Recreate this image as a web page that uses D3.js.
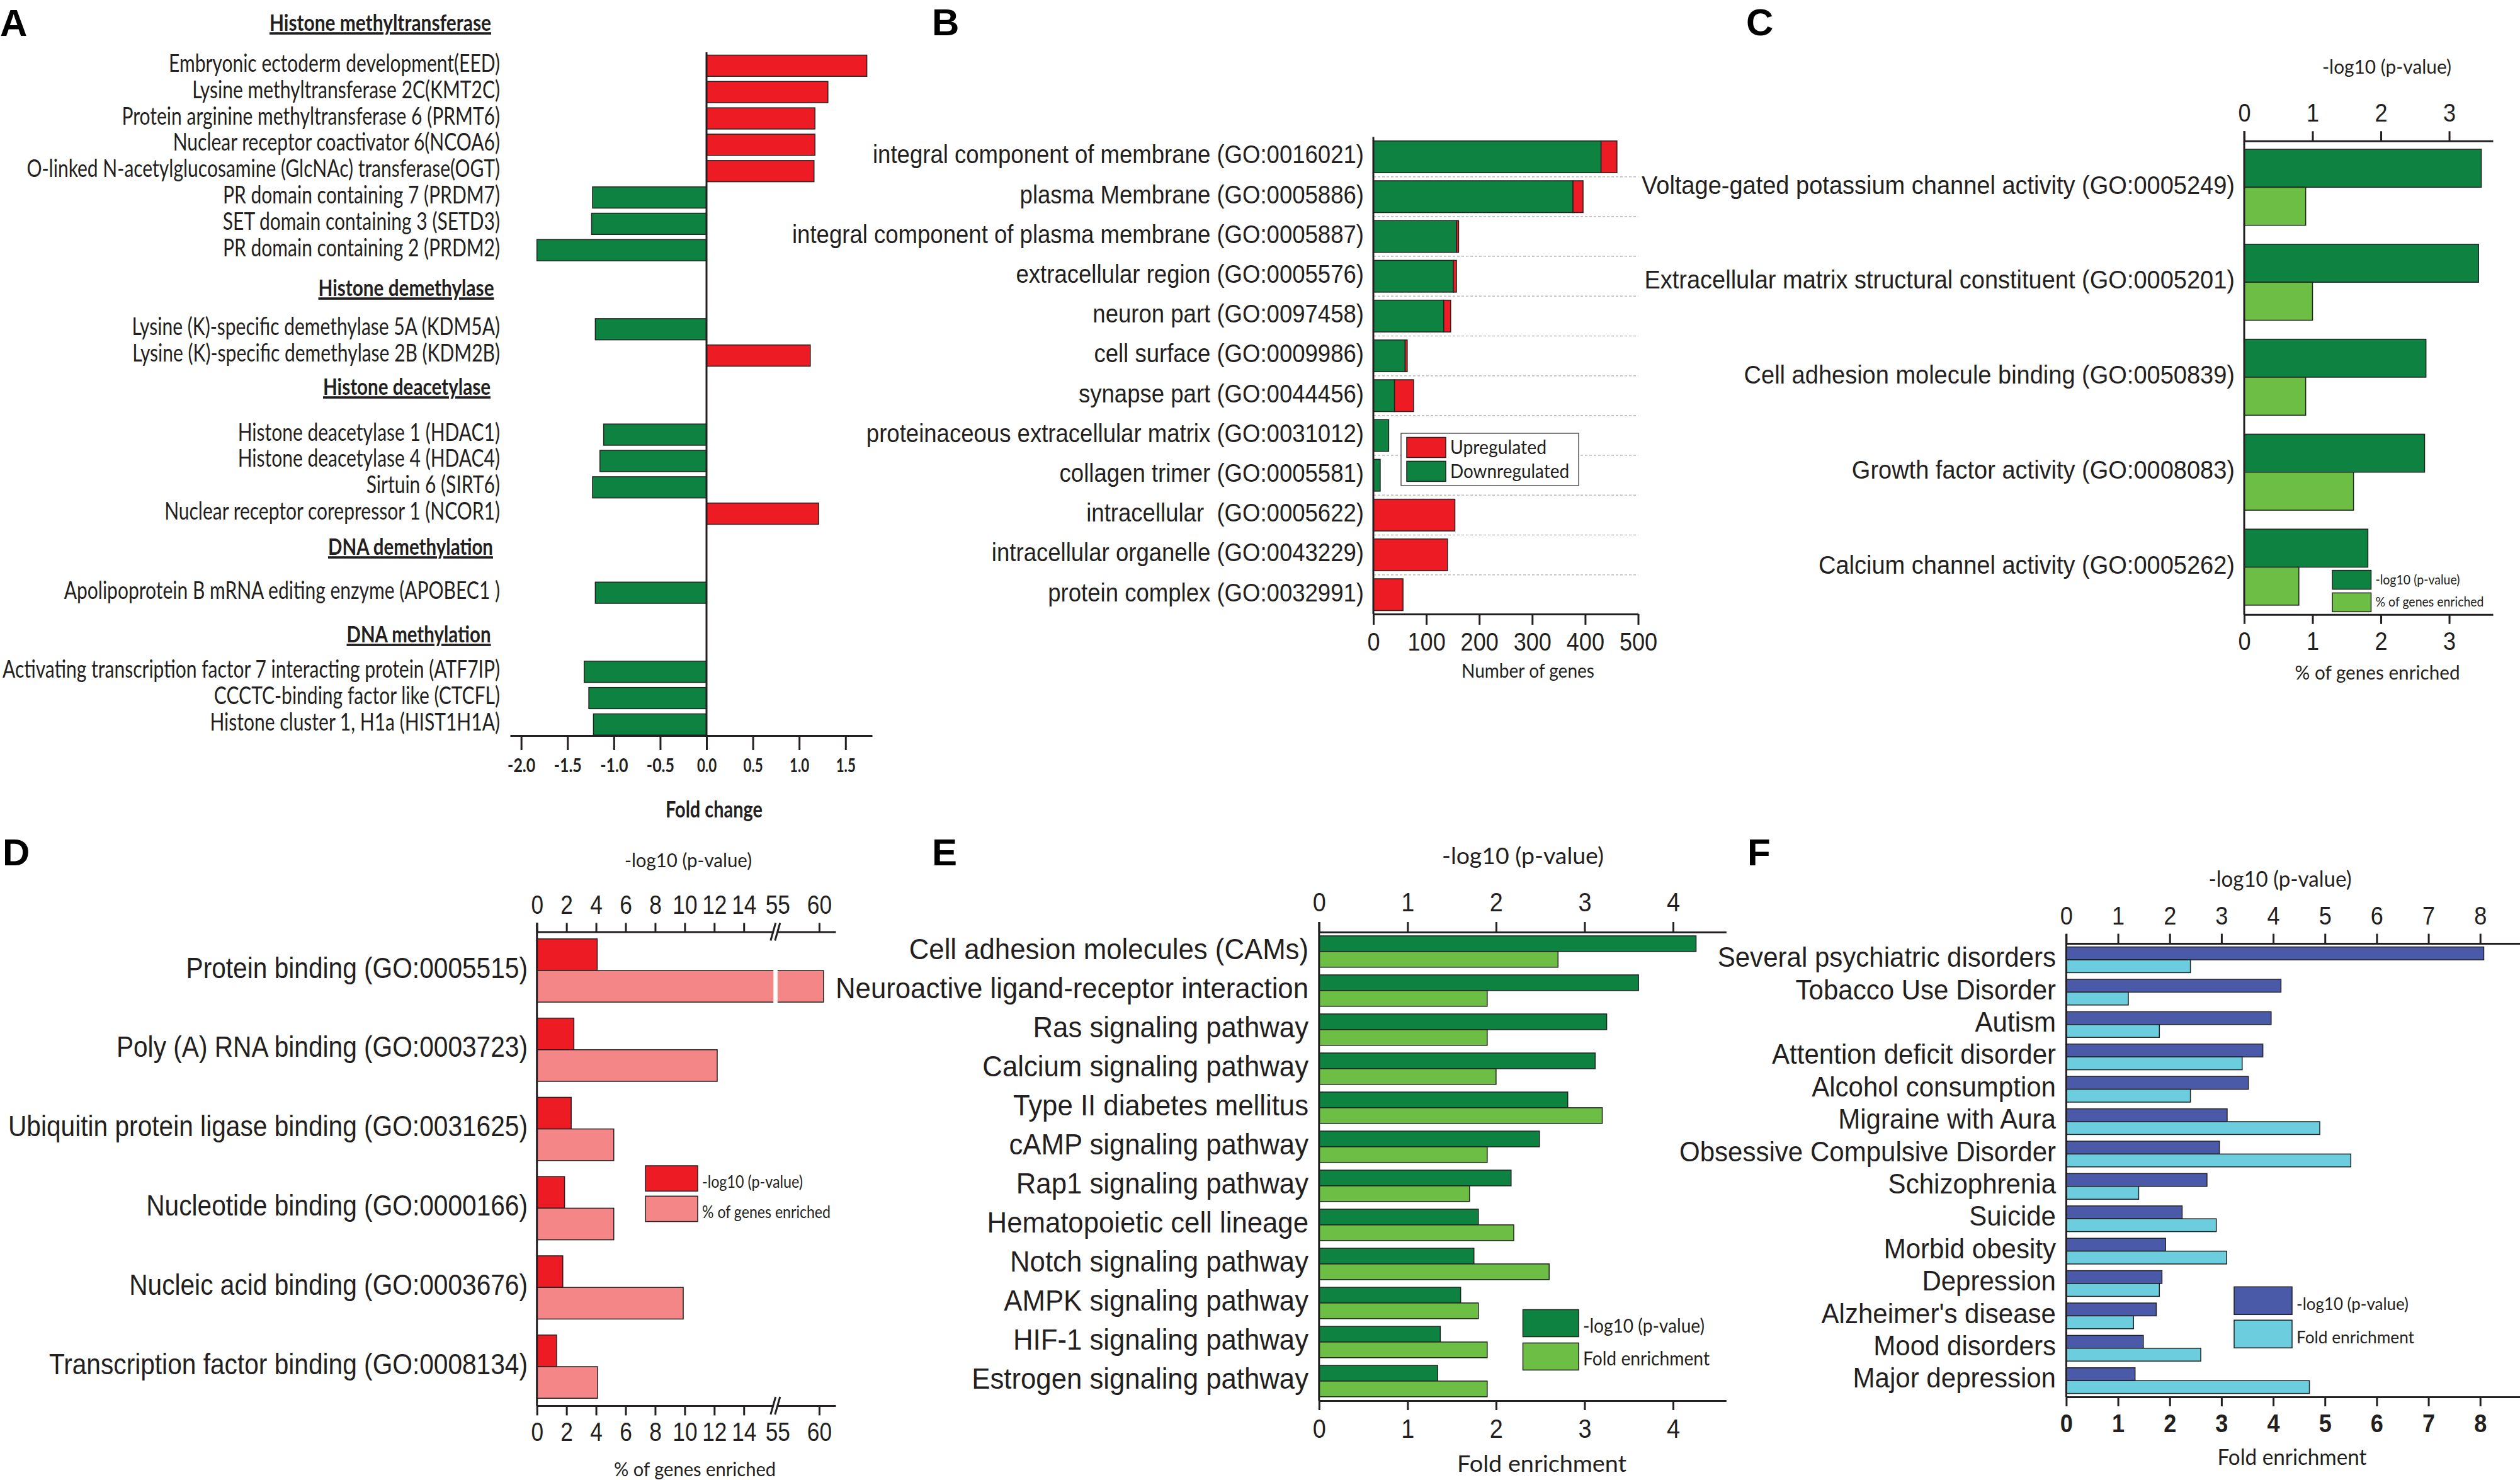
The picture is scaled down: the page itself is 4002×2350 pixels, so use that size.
<!DOCTYPE html>
<html>
<head>
<meta charset="utf-8">
<script src="https://cdn.jsdelivr.net/npm/d3@7"></script>
<style>
  body { margin: 0; background: #fff; }
  text { fill: #231f20; }
  .axis path, .axis line { stroke: #231f20; stroke-width: 3; }
  .bar { stroke: #222; stroke-width: 1.5; }
</style>
</head>
<body>
<svg id="chart"></svg>
<script>
/* DATA */
// panel A
const aGenes = ["Embryonic ectoderm development(EED)", "Lysine methyltransferase 2C(KMT2C)", "Protein arginine methyltransferase 6 (PRMT6)", "Nuclear receptor coactivator 6(NCOA6)", "O-linked N-acetylglucosamine (GlcNAc) transferase(OGT)", "PR domain containing 7 (PRDM7)", "SET domain containing 3 (SETD3)", "PR domain containing 2 (PRDM2)", "Lysine (K)-specific demethylase 5A (KDM5A)", "Lysine (K)-specific demethylase 2B (KDM2B)", "Histone deacetylase 1 (HDAC1)", "Histone deacetylase 4 (HDAC4)", "Sirtuin 6 (SIRT6)", "Nuclear receptor corepressor 1 (NCOR1)", "Apolipoprotein B mRNA editing enzyme (APOBEC1 )", "Activating transcription factor 7 interacting protein (ATF7IP)", "CCCTC-binding factor like (CTCFL)", "Histone cluster 1, H1a (HIST1H1A)"];
const aFoldChange = [1.73, 1.31, 1.17, 1.17, 1.16, -1.23, -1.24, -1.83, -1.20, 1.12, -1.11, -1.15, -1.23, 1.21, -1.20, -1.32, -1.27, -1.22];
const aRows = [0, 1, 2, 3, 4, 5, 6, 7, 10, 11, 14, 15, 16, 17, 20, 23, 24, 25]; // blank rows hold the group headings
const aHeadings = ["Histone methyltransferase", "Histone demethylase", "Histone deacetylase", "DNA demethylation", "DNA methylation"];
const aTicks = [-2, -1.5, -1, -0.5, 0, 0.5, 1, 1.5];

// panel B
const bTerms = ["integral component of membrane (GO:0016021)", "plasma Membrane (GO:0005886)", "integral component of plasma membrane (GO:0005887)", "extracellular region (GO:0005576)", "neuron part (GO:0097458)", "cell surface (GO:0009986)", "synapse part (GO:0044456)", "proteinaceous extracellular matrix (GO:0031012)", "collagen trimer (GO:0005581)", "intracellular\u00a0 (GO:0005622)", "intracellular organelle (GO:0043229)", "protein complex (GO:0032991)"];
const bDown = [430, 377, 157, 151, 133, 60, 40, 29, 13, 0, 0, 0];
const bUp = [30, 19, 4, 6, 13, 4, 36, 0, 0, 154, 140, 56];
const bTicks = [0, 100, 200, 300, 400, 500];

// panel C
const cTerms = ["Voltage-gated potassium channel activity (GO:0005249)", "Extracellular matrix structural constituent (GO:0005201)", "Cell adhesion molecule binding (GO:0050839)", "Growth factor activity (GO:0008083)", "Calcium channel activity (GO:0005262)"];
const cLogP = [3.47, 3.43, 2.66, 2.64, 1.81];
const cPercent = [0.9, 1.0, 0.9, 1.6, 0.8];
const cTicks = [0, 1, 2, 3];

// panel D
const dTerms = ["Protein binding (GO:0005515)", "Poly (A) RNA binding (GO:0003723)", "Ubiquitin protein ligase binding (GO:0031625)", "Nucleotide binding (GO:0000166)", "Nucleic acid binding (GO:0003676)", "Transcription factor binding (GO:0008134)"];
const dLogP = [4.08, 2.5, 2.32, 1.87, 1.75, 1.33];
const dPercent = [60.5, 12.2, 5.2, 5.2, 9.9, 4.1];
const dTicks = [0, 2, 4, 6, 8, 10, 12, 14, 55, 60];

// panel E
const ePathways = ["Cell adhesion molecules (CAMs)", "Neuroactive ligand-receptor interaction", "Ras signaling pathway", "Calcium signaling pathway", "Type II diabetes mellitus", "cAMP signaling pathway", "Rap1 signaling pathway", "Hematopoietic cell lineage", "Notch signaling pathway", "AMPK signaling pathway", "HIF-1 signaling pathway", "Estrogen signaling pathway"];
const eLogP = [4.26, 3.61, 3.25, 3.12, 2.81, 2.49, 2.17, 1.80, 1.75, 1.60, 1.37, 1.34];
const eFold = [2.7, 1.9, 1.9, 2.0, 3.2, 1.9, 1.7, 2.2, 2.6, 1.8, 1.9, 1.9];
const eTicks = [0, 1, 2, 3, 4];

// panel F
const fDisorders = ["Several psychiatric disorders", "Tobacco Use Disorder", "Autism", "Attention deficit disorder", "Alcohol consumption", "Migraine with Aura", "Obsessive Compulsive Disorder", "Schizophrenia", "Suicide", "Morbid obesity", "Depression", "Alzheimer's disease", "Mood disorders", "Major depression"];
const fLogP = [8.07, 4.15, 3.96, 3.80, 3.52, 3.11, 2.96, 2.72, 2.24, 1.92, 1.85, 1.74, 1.49, 1.33];
const fFold = [2.4, 1.2, 1.8, 3.4, 2.4, 4.9, 5.5, 1.4, 2.9, 3.1, 1.8, 1.3, 2.6, 4.7];
const fTicks = [0, 1, 2, 3, 4, 5, 6, 7, 8];

/* CONSTANTS */
const width = 4002, height = 2350;
const sans = "'Liberation Sans', Arial, sans-serif", lato = "Lato, sans-serif";
const red = "#ed1c24", pink = "#f48687", darkGreen = "#0e8241", lightGreen = "#6cbe45", navy = "#4a5aa8", cyan = "#6bcdde";

const svg = d3.select("#chart").attr("width", width).attr("height", height).style("display", "block");
svg.append("rect").attr("width", width).attr("height", height).attr("fill", "#fff");

/* HELPERS */
// squeezes every text of the selection horizontally, the fonts here are wider than the original ones
function squeeze(sel, ratio) {
  sel.each(function () {
    d3.select(this)
      .attr("textLength", this.getComputedTextLength() * ratio)
      .attr("lengthAdjust", "spacingAndGlyphs");
  });
}

// same, but the ratio comes from the width the widest label should have
function fitWidest(sel, target) {
  let widest = 0;
  sel.each(function () { widest = Math.max(widest, this.getComputedTextLength()); });
  squeeze(sel, target / widest);
}

function label(txt, x, y, size, font, w, opts = {}) {
  return svg.append("text")
    .attr("x", x).attr("y", y)
    .attr("dy", "0.33em")
    .attr("text-anchor", opts.anchor || "middle")
    .attr("font-family", font)
    .attr("font-size", size)
    .attr("font-weight", opts.bold ? "bold" : "normal")
    .style("text-decoration", opts.underline ? "underline" : "none")
    .text(txt)
    .call(fitWidest, w);
}

function panelLetter(txt, x, baseline) {
  svg.append("text").attr("x", x).attr("y", baseline)
    .attr("font-family", sans).attr("font-weight", "bold").attr("font-size", 60)
    .style("fill", "#000")
    .text(txt);
}

// band scale from the first bar top, the row step and the bar (or bar pair) height
function rowScale(domain, top, step, barHeight) {
  return d3.scaleBand()
    .domain(domain)
    .range([top, top + step * (domain.length - 1) + barHeight])
    .paddingInner(1 - barHeight / step)
    .paddingOuter(0);
}

function valueAxis(axis, y, o) {
  const g = svg.append("g")
    .attr("class", "axis")
    .attr("transform", `translate(0,${y})`)
    .call(axis.tickSize(o.tick).tickSizeOuter(0).tickPadding(o.pad).tickFormat(o.format || d3.format("d")));
  g.selectAll("text")
    .attr("font-family", o.font || sans)
    .attr("font-size", o.size)
    .attr("font-weight", o.bold ? "bold" : "normal")
    .call(squeeze, o.squeeze || 0.88);
  return g;
}

function categoryAxis(yScale, tickValues, fmt, x, o) {
  const axis = d3.axisLeft(yScale).tickSize(0).tickPadding(0);
  if (tickValues) axis.tickValues(tickValues);
  if (fmt) axis.tickFormat(fmt);
  const g = svg.append("g")
    .attr("transform", `translate(${x},0)`)
    .call(axis);
  g.select(".domain").remove();
  g.selectAll("text")
    .attr("dy", "0.25em")
    .attr("font-family", o.font || sans)
    .attr("font-size", o.size)
    .call(fitWidest, o.widest);
}

function zeroLine(x, y1, y2) {
  svg.append("line").attr("x1", x).attr("x2", x).attr("y1", y1).attr("y2", y2)
    .attr("stroke", "#231f20").attr("stroke-width", 3);
}

function legend(entries, x, swatchW, swatchH, size, font) {
  entries.forEach(d => {
    svg.append("rect").attr("class", "bar")
      .attr("x", x).attr("y", d.y).attr("width", swatchW).attr("height", swatchH)
      .attr("fill", d.color);
    label(d.name, x + swatchW + 7, d.textY || d.y + swatchH / 2, size, font, d.w, { anchor: "start" });
  });
}

// two bars per row, one on the top scale and one on the bottom scale
function pairedBars(names, first, second, y, x, colors) {
  const inner = d3.scaleBand().domain([0, 1]).range([0, y.bandwidth()]);
  [first, second].forEach((values, s) => {
    svg.append("g").selectAll("rect")
      .data(values)
      .join("rect")
      .attr("class", "bar")
      .attr("x", x(0))
      .attr("y", (d, i) => y(names[i]) + inner(s))
      .attr("width", d => x(d) - x(0))
      .attr("height", inner.bandwidth())
      .attr("fill", colors[s]);
  });
}

/* PANEL A */
function drawA() {
  panelLetter("A", 0, 57);
  const x = d3.scaleLinear().domain([-2.12, 1.787]).range([810, 1385]);
  const y = rowScale(d3.range(26), 87.5, 41.84, 33.7);

  svg.append("g").selectAll("rect")
    .data(aFoldChange)
    .join("rect")
    .attr("class", "bar")
    .attr("x", d => Math.min(x(d), x(0)))
    .attr("y", (d, i) => y(aRows[i]))
    .attr("width", d => Math.abs(x(d) - x(0)))
    .attr("height", y.bandwidth())
    .attr("fill", d => d > 0 ? red : darkGreen);

  categoryAxis(y, aRows, (r, i) => aGenes[i], 794, { font: lato, size: 38, widest: 790 });

  valueAxis(d3.axisBottom(x).tickValues(aTicks), 1168,
    { tick: 23, pad: 13, size: 31, font: lato, bold: true, squeeze: 0.72, format: d3.format(".1f") })
    .selectAll("text").text(d => d.toFixed(1));

  zeroLine(x(0), 83, 1168);

  const headingX = [604, 645, 646, 652, 665], headingY = [37, 458, 615, 869, 1008], headingW = [352, 279, 266, 262, 229];
  aHeadings.forEach((h, i) => label(h, headingX[i], headingY[i], 37, lato, headingW[i], { bold: true, underline: true }));
  label("Fold change", 1134, 1286, 37, lato, 154, { bold: true });
}

/* PANEL B */
function drawB() {
  panelLetter("B", 1480, 56);
  const x = d3.scaleLinear().domain([0, 500]).range([2181, 2601.5]);
  const y = rowScale(bTerms, 223.8, 63.2, 50.5);

  // dashed row separators
  const sepY = d => y(d) + y.bandwidth() + (y.step() - y.bandwidth()) / 2;
  svg.append("g").selectAll("line")
    .data(bTerms.slice(0, -1))
    .join("line")
    .attr("x1", x(0)).attr("x2", x(500))
    .attr("y1", sepY)
    .attr("y2", sepY)
    .attr("stroke", "#bbb").attr("stroke-width", 1.5).attr("stroke-dasharray", "4,3");

  const table = bTerms.map((term, i) => ({ term, down: bDown[i], up: bUp[i] }));
  const stacked = d3.stack().keys(["down", "up"])(table);
  svg.append("g").selectAll("g")
    .data(stacked)
    .join("g")
    .attr("fill", d => d.key === "down" ? darkGreen : red)
    .selectAll("rect")
    .data(d => d.filter(s => s[1] > s[0]))
    .join("rect")
    .attr("class", "bar")
    .attr("x", d => x(d[0]))
    .attr("y", d => y(d.data.term))
    .attr("width", d => x(d[1]) - x(d[0]))
    .attr("height", y.bandwidth());

  categoryAxis(y, null, null, 2166, { size: 41, widest: 908 });

  valueAxis(d3.axisBottom(x).tickValues(bTicks), 975, { tick: 17, pad: 12, size: 41 });
  zeroLine(x(0), 217.5, 975);

  label("Number of genes", 2426.5, 1065.6, 31, lato, 211);

  svg.append("rect").attr("x", 2225).attr("y", 688).attr("width", 282).attr("height", 83)
    .attr("fill", "#fff").attr("stroke", "#555").attr("stroke-width", 1.5);
  legend([{ name: "Upregulated", color: red, y: 694.5, w: 153 }, { name: "Downregulated", color: darkGreen, y: 732.4, w: 189 }],
    2234, 62, 32, 31, lato);
}

/* PANEL C */
function drawC() {
  panelLetter("C", 2773, 56);
  const x = d3.scaleLinear().domain([0, 3.64]).range([3564, 3959]);
  const y = rowScale(cTerms, 237, 150.8, 120.7);

  pairedBars(cTerms, cLogP, cPercent, y, x, [darkGreen, lightGreen]);
  categoryAxis(y, null, null, 3549, { size: 41, widest: 942 });

  valueAxis(d3.axisTop(x).tickValues(cTicks), 223.8, { tick: 15.5, pad: 15, size: 41 });
  valueAxis(d3.axisBottom(x).tickValues(cTicks), 975.8, { tick: 15, pad: 12, size: 41 });
  zeroLine(x(0), 208, 976);

  label("-log10 (p-value)", 3790.5, 107, 31, lato, 205);
  label("% of genes enriched", 3775.6, 1069, 31, lato, 262);
  legend([{ name: "-log10 (p-value)", color: darkGreen, y: 905.6, w: 134 }, { name: "% of genes enriched", color: lightGreen, y: 941.4, w: 172 }],
    3704, 61.5, 30, 21, lato);
}

/* PANEL D */
function drawD() {
  panelLetter("D", 4, 1374);
  // broken axis: 14 to 55 is squeezed into one tick step
  const x = d3.scaleLinear().domain([0, 14, 55, 60, 61.9]).range([852.7, 1181.25, 1234.8, 1300.9, 1327]);
  const y = rowScale(dTerms, 1490.8, 125.8, 100.4);

  pairedBars(dTerms, dLogP, dPercent, y, x, [red, pink]);
  svg.append("rect")
    .attr("x", x(50)).attr("width", x(55) - x(50))
    .attr("y", y(dTerms[0]) + y.bandwidth() / 2 - 1).attr("height", y.bandwidth() / 2 + 2)
    .attr("fill", "#fff");
  categoryAxis(y, null, null, 838, { size: 46, widest: 825 });

  [{ axis: d3.axisTop(x), y: 1479.5, tick: 14, pad: 15 },
   { axis: d3.axisBottom(x), y: 2232, tick: 15.4, pad: 11 }].forEach(a => {
    const g = valueAxis(a.axis.tickValues(dTicks), a.y, { tick: a.tick, pad: a.pad, size: 42, squeeze: 0.84 });
    g.selectAll(".tick").filter(d => d === 55).select("line").remove();
    // axis break marks
    const bx = x(55) - 3;
    svg.append("rect").attr("x", bx - 3).attr("width", 7).attr("y", a.y - 3).attr("height", 6).attr("fill", "#fff");
    [-4, 3].forEach(dx => {
      svg.append("line").attr("x1", bx + dx - 4).attr("x2", bx + dx + 4)
        .attr("y1", a.y + 14).attr("y2", a.y - 14)
        .attr("stroke", "#231f20").attr("stroke-width", 3);
    });
  });
  zeroLine(x(0), 1465, 2232);

  label("-log10 (p-value)", 1093, 1367, 31, lato, 202);
  label("% of genes enriched", 1103.6, 2334, 31, lato, 257);
  legend([{ name: "-log10 (p-value)", color: red, y: 1851, w: 160, textY: 1876.6 }, { name: "% of genes enriched", color: pink, y: 1899.3, w: 204, textY: 1924.8 }],
    1025, 83, 40.3, 27, lato);
}

/* PANEL E */
function drawE() {
  panelLetter("E", 1480, 1374);
  const x = d3.scaleLinear().domain([0, 4.6]).range([2094.8, 2741.3]);
  const y = rowScale(ePathways, 1486, 62, 49.8);

  pairedBars(ePathways, eLogP, eFold, y, x, [darkGreen, lightGreen]);
  categoryAxis(y, null, null, 2078, { size: 47, widest: 751 });

  valueAxis(d3.axisTop(x).tickValues(eTicks), 1480, { tick: 16, pad: 17, size: 43 });
  valueAxis(d3.axisBottom(x).tickValues(eTicks), 2224, { tick: 15, pad: 13, size: 43 });
  zeroLine(x(0), 1464, 2224);

  label("-log10 (p-value)", 2418.5, 1360, 36, lato, 257);
  label("Fold enrichment", 2448.6, 2325, 36, lato, 269);
  legend([{ name: "-log10 (p-value)", color: darkGreen, y: 2079.5, w: 193, textY: 2105.6 }, { name: "Fold enrichment", color: lightGreen, y: 2132.4, w: 201, textY: 2157.8 }],
    2418.5, 88.5, 43, 30, lato);
}

/* PANEL F */
function drawF() {
  panelLetter("F", 2775, 1374);
  const x = d3.scaleLinear().domain([0, 8.77]).range([3281.4, 4002]);
  const y = rowScale(fDisorders, 1503.6, 51.4, 40.8);

  pairedBars(fDisorders, fLogP, fFold, y, x, [navy, cyan]);
  categoryAxis(y, null, null, 3265, { size: 45, widest: 598 });

  valueAxis(d3.axisTop(x).tickValues(fTicks), 1498, { tick: 15.4, pad: 15, size: 41 });
  valueAxis(d3.axisBottom(x).tickValues(fTicks), 2218, { tick: 15, pad: 12, size: 41, bold: true });
  zeroLine(x(0), 1483, 2218);

  label("-log10 (p-value)", 3621, 1397, 34, lato, 227);
  label("Fold enrichment", 3640, 2314.5, 34, lato, 237);
  legend([{ name: "-log10 (p-value)", color: navy, y: 2043.3, w: 178, textY: 2071.5 }, { name: "Fold enrichment", color: cyan, y: 2096.2, w: 187, textY: 2124.3 }],
    3548, 92, 44, 27, lato);
}

drawA();
drawB();
drawC();
drawD();
drawE();
drawF();
</script>
</body>
</html>
